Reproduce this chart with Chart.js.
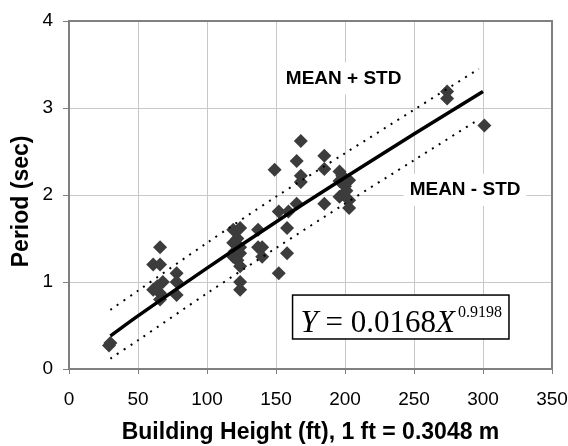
<!DOCTYPE html>
<html>
<head>
<meta charset="utf-8">
<script src="https://cdn.jsdelivr.net/npm/chart.js@4/dist/chart.umd.min.js"></script>
<style>
  html, body { margin: 0; padding: 0; background: #fff; }
  #wrap { width: 568px; height: 446px; }
</style>
</head>
<body>
<div id="wrap"><canvas id="period_chart" width="568" height="446"></canvas></div>
<script>
// Measured buildings: height (ft) and period (sec)
const heightFt = [29, 30,
    61, 66, 66, 78, 68, 78, 61, 66, 66, 78, 64,
    119, 124, 119, 122, 124, 120, 119, 124, 122, 124, 124, 124,
    137, 137, 140, 140,
    149, 152, 152, 158, 159, 158, 165, 165, 168, 168, 168, 185, 185, 185,
    196, 196, 200, 196, 203, 203, 203, 198, 201,
    274, 274, 301];
const periodSec = [0.27, 0.30,
    1.20, 1.20, 1.40, 1.10, 1.00, 1.00, 0.91, 0.87, 0.80, 0.85, 0.95,
    1.60, 1.62, 1.45, 1.50, 1.40, 1.35, 1.29, 1.33, 1.25, 1.18, 1.00, 0.91,
    1.60, 1.40, 1.40, 1.29,
    2.29, 1.81, 1.10, 1.62, 1.81, 1.33, 1.90, 2.39, 2.62, 2.22, 2.15, 2.45, 2.30, 1.90,
    2.27, 2.16, 2.10, 1.98, 2.17, 1.94, 1.85, 2.22, 2.05,
    3.19, 3.11, 2.80];

// Fitted curve Y = 0.0168 X^0.9198 and the +/- one std bands
const fitX = [30, 50, 100, 150, 200, 250, 300];
const fitY = [0.38, 0.61, 1.16, 1.69, 2.20, 2.70, 3.19];
const bandX = [30, 50, 100, 150, 200, 250, 297];
const upperY = [0.68, 0.90, 1.45, 1.98, 2.48, 2.98, 3.45];
const lowerY = [0.12, 0.33, 0.87, 1.39, 1.90, 2.40, 2.87];

const xTicks = [0, 50, 100, 150, 200, 250, 300, 350];
const yTicks = [0, 1, 2, 3, 4];

const toPoints = (xs, ys) => xs.map((x, i) => ({ x: x, y: ys[i] }));

const SANS = "'Liberation Sans', Arial, sans-serif";
const SERIF = "'Liberation Serif', 'Times New Roman', serif";

// text annotations placed in data coordinates
const bandLabels = [
    { text: 'MEAN + STD', x: 199, y: 3.34 },
    { text: 'MEAN - STD', x: 287, y: 2.06 }
];

const annotations = {
    id: 'annotations',
    beforeDatasetsDraw(chart) {
        const { ctx, chartArea } = chart;
        const sx = chart.scales.x, sy = chart.scales.y;
        ctx.save();
        ctx.strokeStyle = '#808080';
        ctx.lineWidth = 2;
        ctx.strokeRect(chartArea.left, chartArea.top,
            chartArea.right - chartArea.left, chartArea.bottom - chartArea.top);
        // label backgrounds break the gridlines
        ctx.fillStyle = '#fff';
        ctx.font = 'bold 19px ' + SANS;
        bandLabels.forEach(l => {
            const px = sx.getPixelForValue(l.x);
            const py = sy.getPixelForValue(l.y);
            const w = ctx.measureText(l.text).width;
            ctx.fillRect(px - w / 2 - 6, py - 16, w + 12, 32);
        });
        // equation box background
        const left = sx.getPixelForValue(162), right = sx.getPixelForValue(321);
        const top = sy.getPixelForValue(0.85), bottom = sy.getPixelForValue(0.345);
        ctx.fillRect(left, top, right - left, bottom - top);
        ctx.restore();
    },
    afterDatasetsDraw(chart) {
        const { ctx } = chart;
        const sx = chart.scales.x, sy = chart.scales.y;
        ctx.save();
        ctx.fillStyle = '#000';
        ctx.textAlign = 'center';
        ctx.textBaseline = 'middle';
        ctx.font = 'bold 19px ' + SANS;
        bandLabels.forEach(l => {
            ctx.fillText(l.text, sx.getPixelForValue(l.x), sy.getPixelForValue(l.y));
        });

        // equation box
        const left = sx.getPixelForValue(162);
        const top = sy.getPixelForValue(0.85);
        const bottom = sy.getPixelForValue(0.345);
        const base = top + 37;
        const parts = [
            { t: 'Y', f: 'italic 31px ' + SERIF, dy: 0 },
            { t: ' = 0.0168', f: '31px ' + SERIF, dy: 0 },
            { t: 'X', f: 'italic 31px ' + SERIF, dy: 0 },
            { t: '0.9198', f: '16px ' + SERIF, dy: -15 }
        ];
        ctx.textAlign = 'left';
        ctx.textBaseline = 'alphabetic';
        let cx = left + 8;
        parts.forEach(p => {
            ctx.font = p.f;
            ctx.fillText(p.t, cx, base + p.dy);
            cx += ctx.measureText(p.t).width + (p.t === 'X' ? 3 : 0);
        });
        const right = cx + 7;
        ctx.strokeStyle = '#000';
        ctx.lineWidth = 1.5;
        ctx.strokeRect(left, top, right - left, bottom - top);
        ctx.restore();
    }
};

const tickFont = { family: SANS, size: 19 };
const titleFont = { family: SANS, size: 23, weight: 'bold' };

new Chart(document.getElementById('period_chart'), {
    type: 'scatter',
    data: {
        datasets: [
            {
                label: 'Fit',
                data: toPoints(fitX, fitY),
                showLine: true,
                borderColor: '#000',
                borderWidth: 3.5,
                pointRadius: 0,
                tension: 0.3,
                order: 1
            },
            {
                label: 'Mean + STD',
                data: toPoints(bandX, upperY),
                showLine: true,
                borderColor: '#000',
                borderWidth: 2,
                borderDash: [2, 6],
                pointRadius: 0,
                tension: 0.3,
                order: 2
            },
            {
                label: 'Mean - STD',
                data: toPoints(bandX, lowerY),
                showLine: true,
                borderColor: '#000',
                borderWidth: 2,
                borderDash: [2, 6],
                pointRadius: 0,
                tension: 0.3,
                order: 3
            },
            {
                label: 'Buildings',
                data: toPoints(heightFt, periodSec),
                pointStyle: 'rectRot',
                pointRadius: 7,
                backgroundColor: '#3c3c3c',
                borderColor: '#3c3c3c',
                borderWidth: 0,
                order: 4
            }
        ]
    },
    options: {
        responsive: false,
        animation: false,
        layout: { padding: { left: 0, right: 16, top: 21, bottom: 0 } },
        plugins: { legend: { display: false }, tooltip: { enabled: false } },
        scales: {
            x: {
                type: 'linear',
                min: 0, max: 350,
                afterBuildTicks: s => { s.ticks = xTicks.map(v => ({ value: v })); },
                afterFit: s => { s.height = 77; s.paddingLeft = 0; s.paddingRight = 0; },
                grid: { color: '#c8c8c8', lineWidth: 1, tickLength: 5, tickColor: '#808080' },
                border: { color: '#808080', width: 2 },
                ticks: { color: '#000', font: tickFont, padding: 14, maxRotation: 0 },
                title: { display: true, text: 'Building Height (ft), 1 ft = 0.3048 m',
                         color: '#000', font: titleFont, padding: { top: 0, bottom: 0 } }
            },
            y: {
                type: 'linear',
                min: 0, max: 4,
                afterBuildTicks: s => { s.ticks = yTicks.map(v => ({ value: v })); },
                afterFit: s => { s.width = 69; s.paddingTop = 0; s.paddingBottom = 0; },
                grid: { color: '#c8c8c8', lineWidth: 1, tickLength: 6, tickColor: '#808080' },
                border: { color: '#808080', width: 2 },
                ticks: { color: '#000', font: tickFont, padding: 10 },
                title: { display: true, text: 'Period (sec)  ',
                         color: '#000', font: titleFont, padding: { top: 8, bottom: 0 } }
            }
        }
    },
    plugins: [annotations]
});
</script>
</body>
</html>
